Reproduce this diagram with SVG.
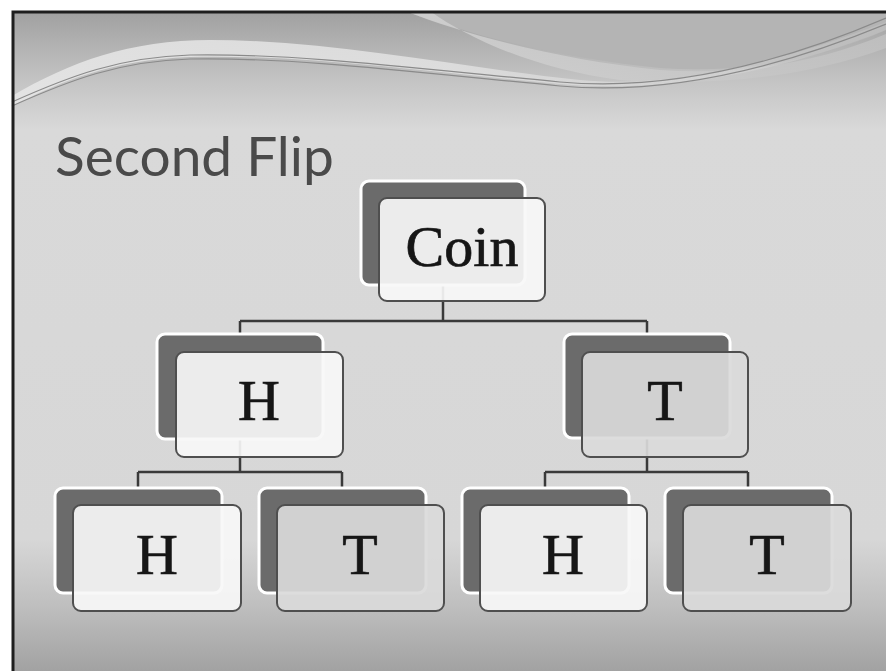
<svg xmlns="http://www.w3.org/2000/svg" width="886" height="671" viewBox="0 0 886 671">
  <defs>
    <linearGradient id="slideBg" x1="0" y1="0" x2="0" y2="1">
      <stop offset="0" stop-color="#a0a0a0"/>
      <stop offset="0.1" stop-color="#c2c2c2"/>
      <stop offset="0.18" stop-color="#d9d9d9"/>
      <stop offset="0.8" stop-color="#d7d7d7"/>
      <stop offset="0.9" stop-color="#bfbfbf"/>
      <stop offset="1" stop-color="#a2a2a2"/>
    </linearGradient>
    <linearGradient id="swoosh" x1="0" y1="0" x2="1" y2="0">
      <stop offset="0" stop-color="#e6e6e6" stop-opacity="0.9"/>
      <stop offset="0.5" stop-color="#e2e2e2" stop-opacity="0.85"/>
      <stop offset="1" stop-color="#d8d8d8" stop-opacity="0.2"/>
    </linearGradient>
    <linearGradient id="topRight" x1="0" y1="0" x2="1" y2="0">
      <stop offset="0" stop-color="#d4d4d4"/>
      <stop offset="1" stop-color="#c2c2c2"/>
    </linearGradient>
  </defs>
  <style>
    .back { fill: #6b6b6b; stroke: #ffffff; stroke-width: 3; }
    .frontH { fill: #f7f7f7; fill-opacity: 0.92; stroke: #4f4f4f; stroke-width: 2; }
    .frontT { fill: #dadada; fill-opacity: 0.92; stroke: #4f4f4f; stroke-width: 2; }
    .label { font-family: "Liberation Serif", "Times New Roman", serif; font-size: 58px; fill: #161616; stroke: #161616; stroke-width: 0.7; text-anchor: middle; }
    .title { font-family: Lato, "Open Sans", "Liberation Sans", sans-serif; font-size: 55px; fill: #4a4a4a; }
    .conn { fill: none; stroke: #3a3a3a; stroke-width: 2.5; }
    .wave { fill: none; stroke: #8a8a8a; stroke-width: 1.2; }
  </style>

  <!-- page margin and slide background -->
  <rect x="0" y="0" width="886" height="671" fill="#ffffff"/>
  <rect x="12" y="11" width="874" height="660" fill="url(#slideBg)"/>

  <!-- decorative waves across the top -->
  <g id="waves">
    <path d="M405,11 C470,35 560,58 660,68 C740,74 820,60 886,30 L886,11 Z" fill="#b4b4b4"/>
    <path d="M405,11 C470,36 560,60 660,70 C740,76 820,62 886,34 L886,48 C800,80 700,86 620,80 C540,70 470,40 430,11 Z" fill="url(#topRight)" opacity="0.8"/>
    <path d="M12,96 C70,62 130,40 210,40 C330,40 450,66 580,80 C660,88 760,70 886,22 L886,30 C760,80 650,92 560,84 C430,72 300,54 190,57 C110,60 60,82 12,106 Z" fill="url(#swoosh)"/>
    <path class="wave" d="M12,102 C70,76 120,57 190,55 C300,53 430,70 560,82 C650,90 760,72 886,18"/>
    <path class="wave" d="M12,106 C70,80 120,61 190,59 C300,57 430,74 560,86 C650,94 760,76 886,24"/>
  </g>

  <!-- slide frame -->
  <path d="M13,671 V12 H886" fill="none" stroke="#1e1e1e" stroke-width="3"/>

  <text class="title" x="55" y="176">Second Flip</text>

  <!-- tree connectors -->
  <g id="connectors">
    <path class="conn" d="M443,285 V321 M240,321 H647 M240,321 V336 M647,321 V336"/>
    <path class="conn" d="M240,440 V472 M138,472 H342 M138,472 V489 M342,472 V489"/>
    <path class="conn" d="M647,438 V472 M545,472 H748 M545,472 V489 M748,472 V489"/>
  </g>

  <g id="coin">
    <rect class="back" x="361" y="181" width="164" height="104" rx="8"/>
    <rect class="frontH" x="379" y="198" width="166" height="103" rx="8"/>
    <text class="label" x="462" y="266">Coin</text>
  </g>

  <g id="flip1-h">
    <rect class="back" x="157" y="334" width="166" height="105" rx="8"/>
    <rect class="frontH" x="176" y="352" width="167" height="105" rx="8"/>
    <text class="label" x="259" y="420">H</text>
  </g>

  <g id="flip1-t">
    <rect class="back" x="564" y="334" width="166" height="104" rx="8"/>
    <rect class="frontT" x="582" y="352" width="166" height="105" rx="8"/>
    <text class="label" x="665" y="420">T</text>
  </g>

  <g id="flip2-hh">
    <rect class="back" x="55" y="488" width="167" height="105" rx="8"/>
    <rect class="frontH" x="73" y="505" width="168" height="106" rx="8"/>
    <text class="label" x="157" y="574">H</text>
  </g>

  <g id="flip2-ht">
    <rect class="back" x="259" y="488" width="167" height="105" rx="8"/>
    <rect class="frontT" x="277" y="505" width="167" height="106" rx="8"/>
    <text class="label" x="360" y="574">T</text>
  </g>

  <g id="flip2-th">
    <rect class="back" x="462" y="488" width="167" height="105" rx="8"/>
    <rect class="frontH" x="480" y="505" width="167" height="106" rx="8"/>
    <text class="label" x="563" y="574">H</text>
  </g>

  <g id="flip2-tt">
    <rect class="back" x="665" y="488" width="167" height="105" rx="8"/>
    <rect class="frontT" x="683" y="505" width="168" height="106" rx="8"/>
    <text class="label" x="767" y="574">T</text>
  </g>
</svg>
